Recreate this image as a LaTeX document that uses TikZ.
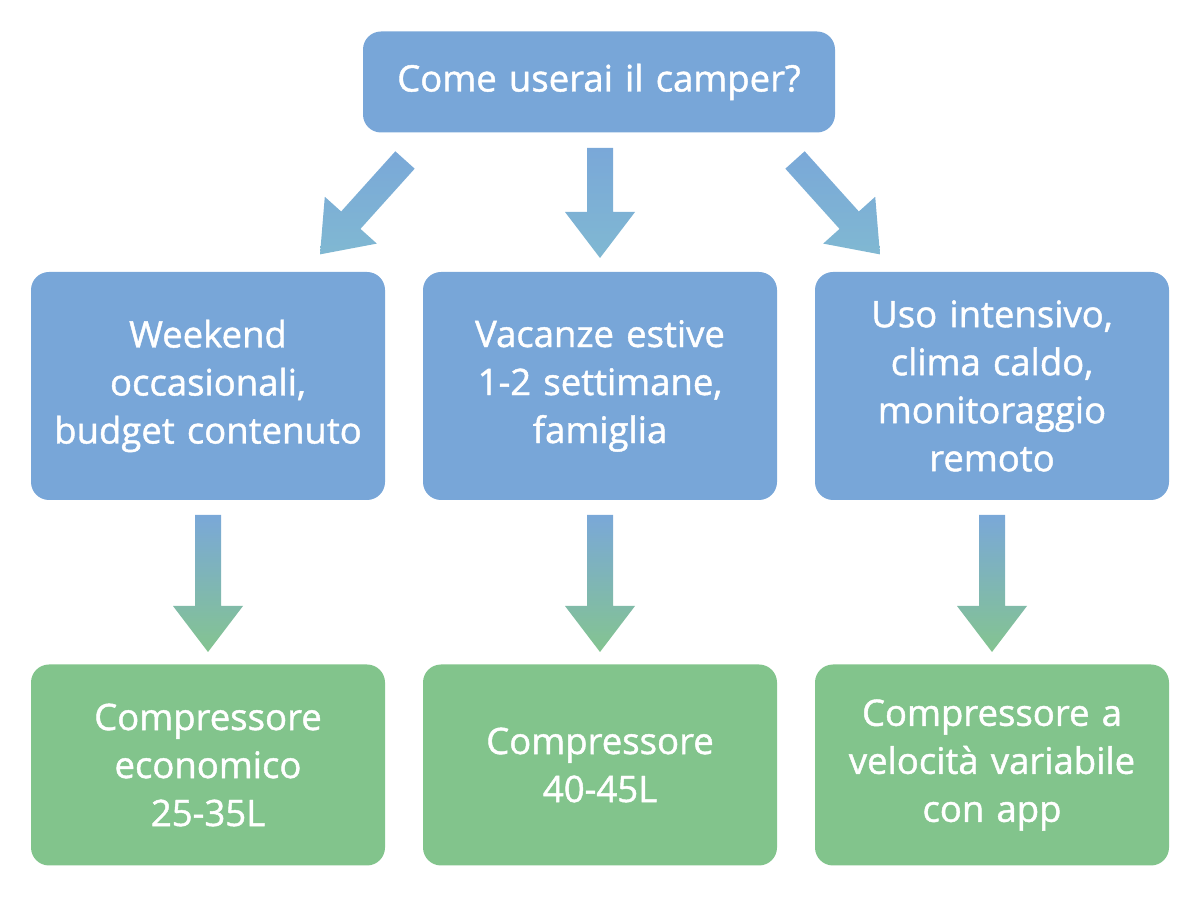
\documentclass[tikz,border=0pt]{standalone}
\usepackage{fontspec}
\setmainfont{Open Sans}[UprightFeatures={FakeBold=1.2}]
\usetikzlibrary{positioning}
\definecolor{boxblue}{HTML}{78A6D8}
\definecolor{boxgreen}{HTML}{82C48C}
\definecolor{arrblue}{HTML}{7AA8D8}
\definecolor{arrcyan}{HTML}{80B8D2}
\definecolor{arrgreen}{HTML}{84C490}
\tikzset{%
  box/.style={rounded corners=18pt, text=white, align=center, minimum width=354pt,
    minimum height=228pt, text width=350pt, inner sep=2pt, font=\fontsize{36.5}{48}\selectfont},
  qbox/.style={box, fill=boxblue, minimum width=472pt, minimum height=101pt, text width=460pt},
  usebox/.style={box, fill=boxblue},
  resbox/.style={box, fill=boxgreen, minimum height=201pt},
  toparr/.style={top color=arrblue, bottom color=arrcyan},
  lowarr/.style={top color=arrblue, bottom color=arrgreen},
}
% block arrow: style, start, angle, length
\newcommand{\blockarr}[4]{%
  \shade[#1, shift={(#2)}, rotate=#3] (0,-13) -- (#4-46,-13) -- (#4-46,-35) -- (#4,0)
    -- (#4-46,35) -- (#4-46,13) -- (0,13) -- cycle;}

\begin{document}
\begin{tikzpicture}[x=1pt,y=1pt]
\useasboundingbox (0,0) rectangle (1200,900);
\node[qbox] (q) at (599,818) {Come userai il camper?};
\node[usebox] (u1) at (208,514) {Weekend\\occasionali,\\budget contenuto};
\node[usebox] (u2) at (600,514) {Vacanze estive\\1-2 settimane,\\famiglia};
\node[usebox] (u3) at (992,514) {Uso intensivo,\\clima caldo,\\monitoraggio\\remoto};
\node[resbox] (r1) at (208,135) {Compressore\\economico\\25-35L};
\node[resbox] (r2) at (600,135) {Compressore\\40-45L};
\node[resbox] (r3) at (992,135) {Compressore a\\velocità variabile\\con app};
% arrows
\coordinate (a1) at (405,740);
\coordinate (a2) at (600,752);
\coordinate (a3) at (795,740);
\coordinate (b1) at (208,385);
\coordinate (b2) at (600,385);
\coordinate (b3) at (992,385);
\blockarr{toparr}{a1}{228}{127}
\blockarr{toparr}{a2}{270}{110}
\blockarr{toparr}{a3}{312}{127}
\blockarr{lowarr}{b1}{270}{137}
\blockarr{lowarr}{b2}{270}{137}
\blockarr{lowarr}{b3}{270}{137}
\end{tikzpicture}
\end{document}
